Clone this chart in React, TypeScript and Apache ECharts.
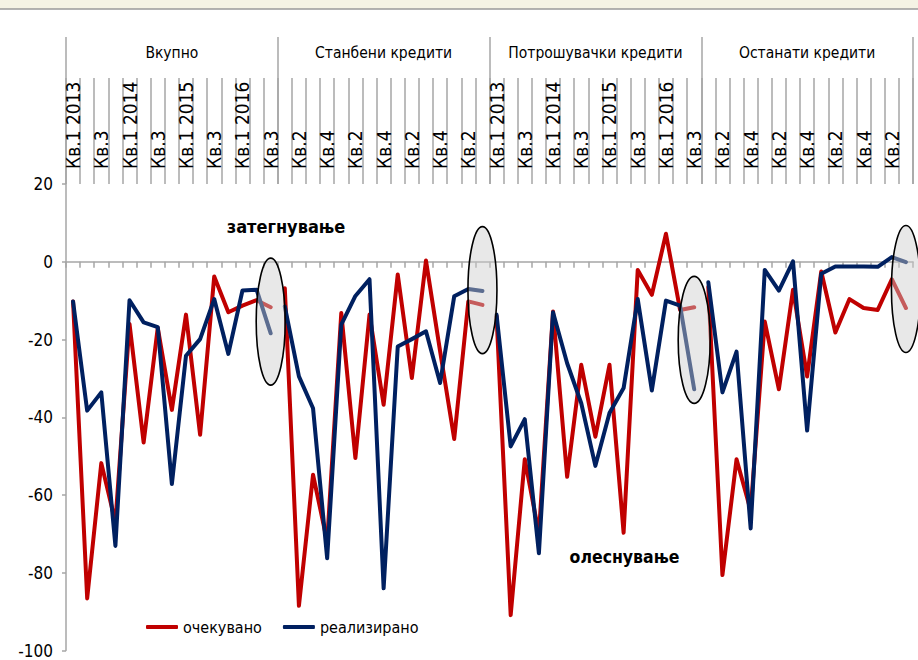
import React, { useEffect, useRef } from "react";
import * as echarts from "echarts";

// ---- data ----
const groups = ["Вкупно", "Станбени кредити", "Потрошувачки кредити", "Останати кредити"];
const quarters = [
  "Кв.1 2013", "Кв.2", "Кв.3", "Кв.4",
  "Кв.1 2014", "Кв.2", "Кв.3", "Кв.4",
  "Кв.1 2015", "Кв.2", "Кв.3", "Кв.4",
  "Кв.1 2016", "Кв.2", "Кв.3",
];
const yTicks = { min: -100, max: 20, step: 20 };

const expectedTotal = [-10.2, -86.6, -51.8, -67, -16, -46.5, -17, -38.1, -13.6, -44.5, -3.8, -13.0, -11.3, -9.9, -11.7];
const realizedTotal = [-10.2, -38.3, -33.6, -73.1, -9.9, -15.6, -16.8, -57.2, -24.2, -19.9, -9.6, -23.7, -7.4, -7.2, -18.4];
const expectedHousing = [-6.8, -88.5, -54.8, -72, -13.2, -50.5, -13.6, -36.8, -3.3, -29.9, 0.3, -23, -45.6, -10.2, -11.1];
const realizedHousing = [-11.5, -29.5, -37.7, -76.3, -16.2, -8.8, -4.5, -84.0, -21.8, -19.9, -17.9, -31.2, -8.9, -7.0, -7.5];
const expectedConsumer = [-14, -90.9, -50.8, -70, -12.8, -55.3, -26.5, -45.0, -26.5, -69.7, -2.1, -8.5, 7.2, -12.4, -11.7];
const realizedConsumer = [-13.6, -47.5, -40.5, -75.0, -13.0, -26.1, -36.4, -52.5, -38.9, -32.5, -9.6, -33.1, -10.0, -11.3, -32.8];
const expectedOther = [-6.5, -80.6, -50.8, -64, -15.4, -32.8, -7.2, -29.5, -2.5, -18.2, -9.6, -11.9, -12.4, -4.5, -11.9];
const realizedOther = [-5.3, -33.6, -23.1, -68.6, -2.1, -7.4, 0.1, -43.4, -3.1, -1.2, -1.2, -1.2, -1.3, 1.2, -0.1];

const expectedAll = [expectedTotal, expectedHousing, expectedConsumer, expectedOther];
const realizedAll = [realizedTotal, realizedHousing, realizedConsumer, realizedOther];

// highlighted (circled) last quarter of each group: centre value of the ellipse
const circleValues = [-15.4, -7.3, -20.1, -7.0];

const SERIES_EXPECTED = "очекувано";
const SERIES_REALIZED = "реализирано";
const NOTE_TIGHT = "затегнување";
const NOTE_EASE = "олеснување";

const FONT = "'DejaVu Sans Condensed', 'Liberation Sans Narrow', 'Liberation Sans', sans-serif";
const RED = "#c00000";
const BLUE = "#002060";
const GRAY = "#a6a6a6";

export default function App() {
  const ref = useRef<HTMLDivElement>(null);
  useEffect(() => {
    if (!ref.current) return;
    const chart = echarts.init(ref.current, undefined, { renderer: "svg" });
    const n = quarters.length;
    const allQuarterLabels: string[] = [];
    const catIds: string[] = [];
    groups.forEach((g, gi) => {
      quarters.forEach((q, qi) => {
        allQuarterLabels.push(q);
        catIds.push(gi + "-" + qi);
      });
    });
    const lineStyle = (color: string) => ({ color, width: 4, cap: "round", join: "round" });
    const series: any[] = [];
    expectedAll.forEach((arr, gi) => {
      series.push({
        type: "line", name: SERIES_EXPECTED, symbol: "none", xAxisIndex: 0, yAxisIndex: 0,
        lineStyle: lineStyle(RED), itemStyle: { color: RED },
        data: arr.map((v, i) => [gi * n + i, v]),
      });
    });
    realizedAll.forEach((arr, gi) => {
      series.push({
        type: "line", name: SERIES_REALIZED, symbol: "none", xAxisIndex: 0, yAxisIndex: 0,
        lineStyle: lineStyle(BLUE), itemStyle: { color: BLUE },
        data: arr.map((v, i) => [gi * n + i, v]),
      });
    });
    const axisLabelBase = { color: "#000", fontFamily: FONT, fontSize: 15.5 };
    chart.setOption({
      animation: false,
      textStyle: { fontFamily: FONT },
      grid: { left: 66, right: 5, top: 184, bottom: 9.5, containLabel: false },
      legend: {
        left: 146, top: 619, padding: 0, itemWidth: 32, itemHeight: 4, itemGap: 21,
        icon: "roundRect",
        textStyle: { color: "#000", fontFamily: FONT, fontSize: 16 },
        data: [SERIES_EXPECTED, SERIES_REALIZED],
      },
      xAxis: [
        {
          type: "category", data: catIds, position: "bottom", boundaryGap: true,
          axisLine: { show: true, onZero: true, lineStyle: { color: GRAY, width: 1.5 } },
          axisTick: { show: true, interval: 0, length: 6, lineStyle: { color: GRAY, width: 1.5 } },
          axisLabel: { show: false }, splitLine: { show: false },
        },
        {
          type: "category", data: allQuarterLabels, position: "top", boundaryGap: true,
          axisLine: { show: false, onZero: false },
          axisTick: { show: true, interval: 0, length: 106, lineStyle: { color: GRAY, width: 1.5 } },
          axisLabel: { ...axisLabelBase, fontSize: 19, interval: 1, rotate: -90, margin: 15 },
          splitLine: { show: false },
        },
        {
          type: "category", data: groups, position: "top", boundaryGap: true,
          axisLine: { show: false, onZero: false },
          axisTick: { show: true, interval: 0, length: 147, lineStyle: { color: GRAY, width: 1.5 } },
          axisLabel: { ...axisLabelBase, interval: 0, margin: 123 },
          splitLine: { show: false },
        },
      ],
      yAxis: {
        type: "value", min: yTicks.min, max: yTicks.max, interval: yTicks.step,
        axisLine: { show: true, onZero: false, lineStyle: { color: GRAY, width: 1.5 } },
        axisTick: { show: true, length: 4, lineStyle: { color: GRAY, width: 1.5 } },
        axisLabel: { ...axisLabelBase, fontSize: 17, margin: 13 },
        splitLine: { show: false },
      },
      series,
    });

    const ellipses = circleValues.map((v, gi) => {
      const p = chart.convertToPixel({ seriesIndex: 0 }, [gi * n + n - 1, v]) as number[];
      return {
        type: "ellipse", z: 100,
        shape: { cx: p[0], cy: p[1], rx: gi === 2 ? 16 : 14.5, ry: 63.5 },
        style: { fill: "rgba(205,205,205,0.45)", stroke: "#000", lineWidth: 1.6 },
      };
    });
    chart.setOption({
      graphic: [
        { type: "rect", z: 50, shape: { x: 0, y: 0, width: 918, height: 9 }, style: { fill: "#f5f3e4", stroke: "none" } },
        { type: "line", z: 51, shape: { x1: 0, y1: 9, x2: 918, y2: 9 }, style: { stroke: "#9a9a9a", lineWidth: 1.5 } },
        ...ellipses,
        {
          type: "text", z: 110, x: 286, y: 226,
          style: { text: NOTE_TIGHT, fill: "#000", font: "bold 18px 'DejaVu Sans Condensed', 'Liberation Sans', sans-serif", align: "center", verticalAlign: "middle" },
        },
        {
          type: "text", z: 110, x: 624.5, y: 557,
          style: { text: NOTE_EASE, fill: "#000", font: "bold 17.5px 'DejaVu Sans Condensed', 'Liberation Sans', sans-serif", align: "center", verticalAlign: "middle" },
        },
      ],
    });
    return () => chart.dispose();
  }, []);
  return (
    <div
      ref={ref}
      style={{ position: "fixed", left: 0, top: 0, width: 918, height: 660, background: "#fff" }}
    />
  );
}
